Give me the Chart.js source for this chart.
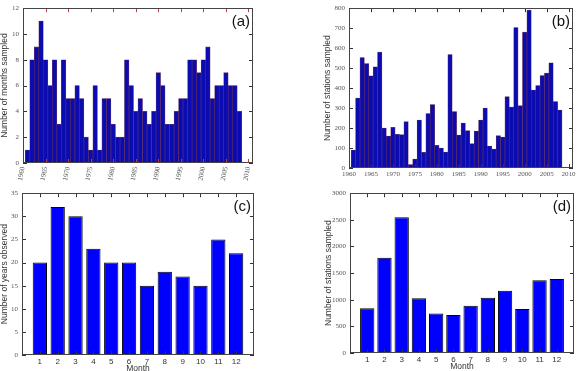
<!DOCTYPE html>
<html>
<head>
<meta charset="utf-8">
<script src="https://cdn.jsdelivr.net/npm/chart.js@4/dist/chart.umd.min.js"></script>
<style>
  body { margin: 0; background: #fff; }
  #wrap { position: relative; width: 580px; height: 371px; overflow: hidden; }
  canvas { position: absolute; }
</style>
</head>
<body>
<div id="wrap">
  <canvas id="chartA" width="275" height="185" style="left:0;top:0"></canvas>
  <canvas id="chartB" width="290" height="185" style="left:290px;top:0"></canvas>
  <canvas id="chartC" width="275" height="189" style="left:0;top:185px"></canvas>
  <canvas id="chartD" width="290" height="187" style="left:290px;top:185px"></canvas>
</div>
<script>
// data
const years = [1961, 1962, 1963, 1964, 1965, 1966, 1967, 1968, 1969, 1970,
               1971, 1972, 1973, 1974, 1975, 1976, 1977, 1978, 1979, 1980,
               1981, 1982, 1983, 1984, 1985, 1986, 1987, 1988, 1989, 1990,
               1991, 1992, 1993, 1994, 1995, 1996, 1997, 1998, 1999, 2000,
               2001, 2002, 2003, 2004, 2005, 2006, 2007, 2008];
const monthsSampled = [1, 8, 9, 11, 8, 6, 8, 3, 8, 5,
                       5, 6, 5, 2, 1, 6, 1, 5, 5, 3,
                       2, 2, 8, 6, 4, 5, 4, 3, 4, 7,
                       6, 3, 3, 4, 5, 5, 8, 8, 7, 8,
                       9, 5, 6, 6, 7, 6, 6, 4];
const stationsByYear = [90, 350, 553, 523, 462, 507, 580, 200, 160, 203,
                        168, 167, 232, 17, 45, 240, 78, 273, 318, 113,
                        100, 80, 568, 283, 165, 225, 187, 122, 185, 240,
                        300, 110, 95, 162, 155, 357, 305, 703, 312, 680,
                        790, 390, 413, 463, 475, 527, 333, 290];
const months = [1, 2, 3, 4, 5, 6, 7, 8, 9, 10, 11, 12];
const yearsObserved = [20, 32, 30, 23, 20, 20, 15, 18, 17, 15, 25, 22];
const stationsByMonth = [840, 1790, 2550, 1030, 740, 715, 885, 1035, 1170, 825, 1365, 1390];

// frame, inward ticks and panel tag, matplotlib style
const framePlugin = {
    id: 'frame',
    afterDraw(chart, args, opts) {
        const ctx = chart.ctx;
        const a = chart.chartArea;
        const x = chart.scales.x, y = chart.scales.y;
        ctx.save();
        ctx.lineWidth = 1;
        const len = 4;
        x.ticks.forEach(t => {
            const px = Math.round(x.getPixelForValue(t.value)) + 0.5;
            ctx.strokeStyle = opts.xTickColor || '#333';
            ctx.beginPath();
            ctx.moveTo(px, a.bottom); ctx.lineTo(px, a.bottom - len);
            ctx.stroke();
            ctx.strokeStyle = opts.topTickColor || opts.xTickColor || '#333';
            ctx.beginPath();
            ctx.moveTo(px, a.top); ctx.lineTo(px, a.top + len);
            ctx.stroke();
        });
        ctx.strokeStyle = '#333';
        y.ticks.forEach(t => {
            const py = Math.round(y.getPixelForValue(t.value)) + 0.5;
            ctx.beginPath();
            ctx.moveTo(a.left, py); ctx.lineTo(a.left + len, py);
            ctx.moveTo(a.right, py); ctx.lineTo(a.right - len, py);
            ctx.stroke();
        });
        ctx.strokeStyle = '#444';
        ctx.strokeRect(Math.round(a.left) + 0.5, Math.round(a.top) + 0.5,
                       Math.round(a.right - a.left) - 1, Math.round(a.bottom - a.top) - 1);
        ctx.fillStyle = '#111';
        ctx.font = '15px "Liberation Sans", Arial, sans-serif';
        ctx.textAlign = 'right';
        ctx.textBaseline = 'middle';
        ctx.fillText(opts.tag, a.right - 3, a.top + 14);
        ctx.restore();
    }
};

const tickFont = { family: '"Liberation Serif", "DejaVu Serif", serif', size: 7 };
const titleFont = { family: '"Liberation Sans", Arial, sans-serif', size: 8.5 };

function makeChart(id, cfg) {
    const points = cfg.xs.map((v, i) => ({ x: v, y: cfg.ys[i] }));
    return new Chart(document.getElementById(id), {
        type: 'bar',
        data: {
            datasets: [{
                data: points,
                backgroundColor: cfg.fill,
                borderColor: cfg.edge,
                borderWidth: cfg.edgeWidth,
                barPercentage: cfg.barPct,
                categoryPercentage: 1
            }]
        },
        options: {
            responsive: false,
            animation: false,
            devicePixelRatio: 1,
            layout: { padding: cfg.padding },
            plugins: {
                legend: { display: false },
                tooltip: { enabled: false },
                frame: { tag: cfg.tag, topTickColor: cfg.topTickColor, xTickColor: cfg.xTickColor }
            },
            scales: {
                x: {
                    type: 'linear',
                    offset: false,
                    min: cfg.xMin,
                    max: cfg.xMax,
                    grid: { display: false, drawTicks: false },
                    border: { display: false },
                    title: cfg.xTitle ? { display: true, text: cfg.xTitle, font: titleFont, color: '#333', padding: 0 } : { display: false },
                    ticks: {
                        stepSize: cfg.xStep,
                        includeBounds: false,
                        autoSkip: false,
                        minRotation: cfg.rot,
                        maxRotation: cfg.rot,
                        padding: cfg.xPad,
                        font: cfg.xFont || tickFont,
                        color: cfg.xFontColor || '#555',
                        callback: v => String(v)
                    },
                    afterBuildTicks: s => {
                        if (cfg.xKeep) s.ticks = s.ticks.filter(t => cfg.xKeep.includes(t.value));
                    },
                    afterFit: s => { s.height = cfg.xHeight; }
                },
                y: {
                    min: 0,
                    max: cfg.yMax,
                    grid: { display: false, drawTicks: false },
                    border: { display: false },
                    title: { display: true, text: cfg.yTitle, font: titleFont, color: '#333', padding: 0 },
                    ticks: { stepSize: cfg.yStep, padding: 4, font: tickFont, color: '#555', callback: v => String(v) },
                    afterFit: s => { s.width = cfg.yWidth; }
                }
            }
        },
        plugins: [framePlugin]
    });
}

const darkFill = '#0b0bb0';
const darkEdge = 'rgba(80, 25, 70, 0.85)';

makeChart('chartA', {
    xs: years, ys: monthsSampled, tag: '(a)',
    fill: darkFill, edge: darkEdge, edgeWidth: 0.6, barPct: 1,
    xMin: 1960, xMax: 2011, xStep: 5, rot: 78, xPad: 3,
    yMax: 12, yStep: 2, yTitle: 'Number of months sampled',
    padding: { top: 5, right: 22, bottom: 0, left: 0 },
    yWidth: 23, xHeight: 22, topTickColor: '#d33', xTickColor: '#c33'
});

makeChart('chartB', {
    xs: years, ys: stationsByYear, tag: '(b)',
    fill: darkFill, edge: darkEdge, edgeWidth: 0.6, barPct: 1,
    xMin: 1960, xMax: 2011, xStep: 5, rot: 0, xPad: 2,
    yMax: 800, yStep: 100, yTitle: 'Number of stations sampled',
    padding: { top: 8, right: 7, bottom: 0, left: 33 },
    yWidth: 26, xHeight: 17
});

const monthFont = { family: '"Liberation Sans", Arial, sans-serif', size: 8 };

makeChart('chartC', {
    xs: months, ys: yearsObserved, tag: '(c)',
    fill: '#0000ff', edge: '#000', edgeWidth: 1, barPct: 0.8,
    xMin: 0, xMax: 13, xStep: 1, xKeep: months, rot: 0, xPad: 2,
    xFont: monthFont, xFontColor: '#333', xTitle: 'Month',
    yMax: 35, yStep: 5, yTitle: 'Number of years observed',
    padding: { top: 4, right: 21, bottom: 0, left: 0 },
    yWidth: 22, xHeight: 19
});

makeChart('chartD', {
    xs: months, ys: stationsByMonth, tag: '(d)',
    fill: '#0000ff', edge: '#000', edgeWidth: 1, barPct: 0.83,
    xMin: 0, xMax: 13, xStep: 1, xKeep: months, rot: 0, xPad: 2,
    xFont: monthFont, xFontColor: '#333', xTitle: 'Month',
    yMax: 3000, yStep: 500, yTitle: 'Number of stations sampled',
    padding: { top: 7, right: 6, bottom: 0, left: 34 },
    yWidth: 26, xHeight: 19
});
</script>
</body>
</html>
